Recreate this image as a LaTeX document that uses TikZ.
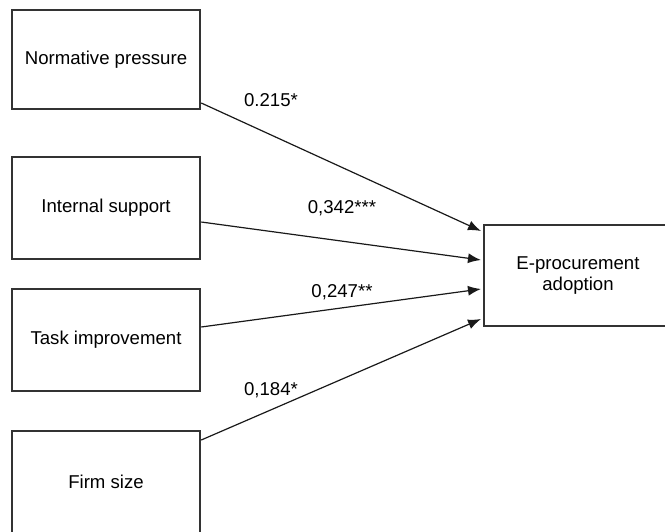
\documentclass[tikz,border=0pt]{standalone}
\usepackage{fontspec}
\setmainfont{Liberation Sans}
\usepackage{tikz}
\usetikzlibrary{arrows.meta}
\usetikzlibrary{positioning}
\usetikzlibrary{calc}
\begin{document}
\begin{tikzpicture}[x=1pt,y=-1pt,>={Latex[length=13pt,width=10pt]},
  every node/.style={font=\fontsize{18.6}{21}\selectfont},
  factor/.style={draw=black!80,line width=2pt,minimum width=188.5pt,inner sep=0pt,align=center},
  path/.style={->,line width=1.2pt,black!90}]
\useasboundingbox (0,0) rectangle (665,531);
\clip (0,0) rectangle (665,531);
%\path[use as bounding box] (0,0) rectangle (665,531);
\path node[factor, minimum height=99pt] (np) at (106,59.5) {Normative pressure};
\path node[factor, minimum height=102pt] (is) at (106,208) {Internal support};
\path node[factor, minimum height=102pt] (ti) at (106,340) {Task improvement};
\path node[factor, minimum height=102pt] (fs) at (106,482) {Firm size};
\path node[factor, minimum width=188pt, minimum height=101pt] (ep) at (578,275.5) {E-procurement\\adoption};
\path[path] ($(np.east)+(0,43.5)$) edge ($(ep.west)+(-2,-44.5)$);
\path[path] ($(is.east)+(0,14)$) edge ($(ep.west)+(-2,-15.5)$);
\path[path] ($(ti.east)+(0,-13)$) edge ($(ep.west)+(-2,13.5)$);
\path[path] ($(fs.east)+(0,-42)$) edge ($(ep.west)+(-2,43.5)$);
\path node (l1) at (271,100) {0.215*};
\path node (l2) at (342,208) {0,342***};
\path node (l3) at (342,292) {0,247**};
\path node (l4) at (271,390) {0,184*};
%\path node[below =of ep] (h) {};
\end{tikzpicture}
\end{document}
